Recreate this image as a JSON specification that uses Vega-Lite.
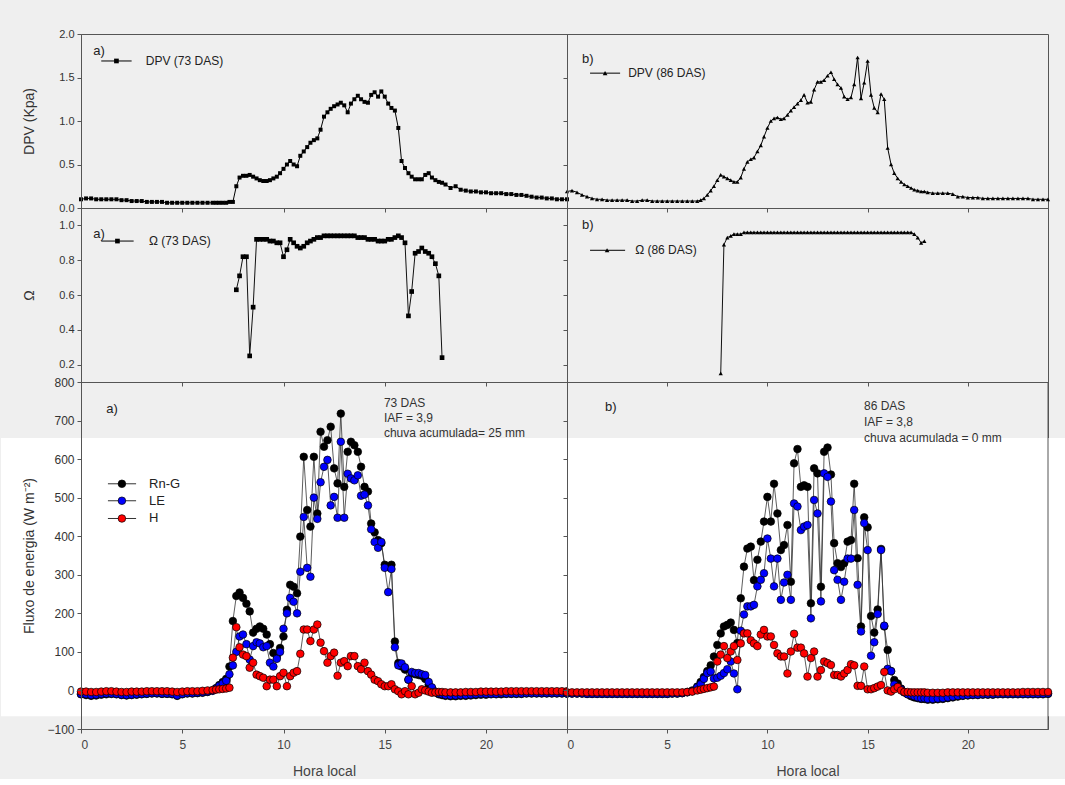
{
"$schema":"https://vega.github.io/schema/vega-lite/v6.json",
"background":"#efefef",
"padding":{"left":0,"right":0,"top":27,"bottom":0},
"config":{"view":{"stroke":"#555","strokeWidth":1},
"axis":{"labelFont":"Liberation Sans","titleFont":"Liberation Sans","labelColor":"#333","titleColor":"#333","domainColor":"#555","tickColor":"#555","grid":false,"zindex":1,"labelFontSize":11,"titleFontSize":14,"titleFontWeight":"normal","tickSize":4,"labelOverlap":false,"tickCount":12},
"text":{"font":"Liberation Sans"}},
"datasets":{
"L":[
{"t":0,"d":0.10,"r":-10,"l":-9,"h":-3},{"t":0.25,"d":0.11,"r":-12,"l":-10,"h":-3},{"t":0.5,"d":0.11,"r":-14,"l":-12,"h":-4},{"t":0.75,"d":0.1,"r":-13,"l":-11,"h":-4},{"t":1,"d":0.1,"r":-11,"l":-9,"h":-3},{"t":1.25,"d":0.1,"r":-10,"l":-8,"h":-2},{"t":1.5,"d":0.1,"r":-9,"l":-8,"h":-2},{"t":1.75,"d":0.1,"r":-10,"l":-9,"h":-3},{"t":2,"d":0.09,"r":-12,"l":-11,"h":-4},{"t":2.25,"d":0.09,"r":-13,"l":-12,"h":-4},{"t":2.5,"d":0.08,"r":-12,"l":-11,"h":-3},{"t":2.75,"d":0.08,"r":-11,"l":-10,"h":-3},{"t":3,"d":0.08,"r":-10,"l":-9,"h":-3},{"t":3.25,"d":0.07,"r":-9,"l":-8,"h":-2},{"t":3.5,"d":0.07,"r":-8,"l":-7,"h":-2},{"t":3.75,"d":0.07,"r":-8,"l":-7,"h":-2},{"t":4,"d":0.07,"r":-9,"l":-8,"h":-2},{"t":4.25,"d":0.06,"r":-9,"l":-8,"h":-2},{"t":4.5,"d":0.06,"r":-10,"l":-9,"h":-3},{"t":4.75,"d":0.06,"r":-14,"l":-13,"h":-4},{"t":5,"d":0.06,"r":-10,"l":-9,"h":-3},{"t":5.25,"d":0.06,"r":-8,"l":-7,"h":-2},{"t":5.5,"d":0.06,"r":-8,"l":-7,"h":-2},{"t":5.75,"d":0.06,"r":-7,"l":-6,"h":-2},{"t":6,"d":0.06,"r":-6,"l":-5,"h":-1},{"t":6.25,"d":0.06,"r":-4,"l":-3,"h":0},{"t":6.5,"d":0.06,"r":0,"l":-1,"h":1},
{"t":6.67,"d":0.06,"r":6,"l":5,"h":2},{"t":6.83,"d":0.06,"r":14,"l":12,"h":3},{"t":7,"d":0.06,"r":22,"l":18,"h":4},{"t":7.17,"d":0.06,"r":30,"l":25,"h":5},{"t":7.33,"d":0.07,"r":62,"l":42,"h":7},{"t":7.5,"d":0.07,"r":180,"l":65,"h":85},
{"t":7.67,"d":0.25,"o":0.63,"r":245,"l":100,"h":164},{"t":7.83,"d":0.35,"o":0.71,"r":254,"l":140,"h":112},{"t":8,"d":0.37,"o":0.82,"r":240,"l":145,"h":93},{"t":8.17,"d":0.37,"o":0.82,"r":225,"l":120,"h":89},{"t":8.33,"d":0.38,"o":0.25,"r":205,"l":80,"h":59},{"t":8.5,"d":0.36,"o":0.53,"r":150,"l":115,"h":72},{"t":8.67,"d":0.34,"o":0.92,"r":160,"l":125,"h":41},{"t":8.83,"d":0.32,"o":0.92,"r":166,"l":122,"h":37},{"t":9,"d":0.31,"o":0.92,"r":160,"l":112,"h":33},{"t":9.17,"d":0.31,"o":0.92,"r":145,"l":115,"h":11},{"t":9.33,"d":0.32,"o":0.91,"r":120,"l":72,"h":28},{"t":9.5,"d":0.34,"o":0.91,"r":97,"l":62,"h":28},{"t":9.67,"d":0.36,"o":0.9,"r":88,"l":82,"h":11},{"t":9.83,"d":0.4,"o":0.9,"r":110,"l":100,"h":37},{"t":10,"d":0.45,"o":0.82,"r":140,"l":160,"h":46},{"t":10.17,"d":0.5,"o":0.86,"r":209,"l":200,"h":11},{"t":10.33,"d":0.54,"o":0.92,"r":274,"l":240,"h":37},{"t":10.5,"d":0.5,"o":0.9,"r":269,"l":230,"h":46},{"t":10.67,"d":0.48,"o":0.88,"r":252,"l":200,"h":50},{"t":10.83,"d":0.6,"o":0.87,"r":399,"l":308,"h":95},{"t":11,"d":0.65,"o":0.88,"r":606,"l":450,"h":158},{"t":11.17,"d":0.7,"o":0.9,"r":468,"l":318,"h":158},{"t":11.33,"d":0.75,"o":0.91,"r":425,"l":295,"h":128},{"t":11.5,"d":0.78,"o":0.92,"r":606,"l":500,"h":158},{"t":11.67,"d":0.8,"o":0.93,"r":459,"l":445,"h":171},{"t":11.83,"d":0.9,"o":0.93,"r":671,"l":540,"h":124},{"t":12,"d":1.05,"o":0.94,"r":632,"l":580,"h":102},{"t":12.17,"d":1.1,"o":0.94,"r":649,"l":598,"h":72},{"t":12.33,"d":1.14,"o":0.94,"r":684,"l":480,"h":89},{"t":12.5,"d":1.17,"o":0.94,"r":576,"l":502,"h":98},{"t":12.67,"d":1.19,"o":0.94,"r":537,"l":448,"h":38},{"t":12.83,"d":1.21,"o":0.94,"r":718,"l":645,"h":72},{"t":13,"d":1.18,"o":0.94,"r":528,"l":448,"h":76},{"t":13.17,"d":1.1,"o":0.94,"r":619,"l":562,"h":63},{"t":13.33,"d":1.2,"o":0.94,"r":645,"l":550,"h":89},{"t":13.5,"d":1.25,"o":0.94,"r":636,"l":545,"h":89},{"t":13.67,"d":1.29,"o":0.93,"r":619,"l":558,"h":63},{"t":13.83,"d":1.25,"o":0.93,"r":580,"l":505,"h":55},{"t":14,"d":1.22,"o":0.93,"r":528,"l":508,"h":72},{"t":14.17,"d":1.21,"o":0.92,"r":516,"l":480,"h":50},{"t":14.33,"d":1.3,"o":0.92,"r":433,"l":418,"h":41},{"t":14.5,"d":1.33,"o":0.92,"r":410,"l":385,"h":28},{"t":14.67,"d":1.28,"o":0.91,"r":390,"l":370,"h":24},{"t":14.83,"d":1.34,"o":0.91,"r":382,"l":385,"h":16},{"t":15,"d":1.28,"o":0.91,"r":326,"l":318,"h":11},{"t":15.17,"d":1.2,"o":0.92,"r":320,"l":255,"h":11},{"t":15.33,"d":1.15,"o":0.92,"r":326,"l":315,"h":16},{"t":15.5,"d":1.12,"o":0.93,"r":127,"l":112,"h":3},{"t":15.67,"d":0.92,"o":0.94,"r":71,"l":65,"h":-2},{"t":15.83,"d":0.54,"o":0.93,"r":62,"l":70,"h":-10},{"t":16,"d":0.46,"o":0.9,"r":54,"l":60,"h":-2},{"t":16.17,"d":0.4,"o":0.48,"r":28,"l":28,"h":-10},{"t":16.33,"d":0.36,"o":0.62,"r":45,"l":48,"h":11},{"t":16.5,"d":0.33,"o":0.84,"r":42,"l":45,"h":-10},{"t":16.67,"d":0.33,"o":0.85,"r":40,"l":45,"h":-6},{"t":16.83,"d":0.33,"o":0.87,"r":38,"l":42,"h":3},{"t":17,"d":0.38,"o":0.85,"r":30,"l":40,"h":0},{"t":17.17,"d":0.4,"o":0.84,"r":15,"l":22,"h":-3},{"t":17.33,"d":0.35,"o":0.82,"r":5,"l":8,"h":-6},{"t":17.5,"d":0.32,"o":0.78,"r":-5,"l":-3,"h":-5},{"t":17.67,"d":0.3,"o":0.71,"r":-10,"l":-8,"h":-4},{"t":17.83,"d":0.29,"o":0.24,"r":-12,"l":-10,"h":-4},
{"t":18,"d":0.27,"r":-14,"l":-12,"h":-5},{"t":18.25,"d":0.23,"r":-15,"l":-13,"h":-5},{"t":18.5,"d":0.25,"r":-15,"l":-13,"h":-5},{"t":18.75,"d":0.21,"r":-14,"l":-12,"h":-5},{"t":19,"d":0.2,"r":-14,"l":-12,"h":-4},{"t":19.25,"d":0.19,"r":-13,"l":-11,"h":-4},{"t":19.5,"d":0.19,"r":-12,"l":-10,"h":-4},{"t":19.75,"d":0.18,"r":-11,"l":-9,"h":-3},{"t":20,"d":0.18,"r":-11,"l":-9,"h":-3},{"t":20.25,"d":0.17,"r":-10,"l":-9,"h":-3},{"t":20.5,"d":0.17,"r":-10,"l":-9,"h":-3},{"t":20.75,"d":0.17,"r":-10,"l":-8,"h":-3},{"t":21,"d":0.16,"r":-9,"l":-8,"h":-2},{"t":21.25,"d":0.16,"r":-9,"l":-8,"h":-2},{"t":21.5,"d":0.15,"r":-9,"l":-8,"h":-2},{"t":21.75,"d":0.15,"r":-9,"l":-8,"h":-2},{"t":22,"d":0.14,"r":-8,"l":-7,"h":-2},{"t":22.25,"d":0.13,"r":-8,"l":-7,"h":-2},{"t":22.5,"d":0.12,"r":-8,"l":-7,"h":-2},{"t":22.75,"d":0.12,"r":-8,"l":-7,"h":-2},{"t":23,"d":0.11,"r":-8,"l":-7,"h":-2},{"t":23.25,"d":0.11,"r":-8,"l":-7,"h":-2},{"t":23.5,"d":0.1,"r":-8,"l":-7,"h":-2},{"t":23.75,"d":0.1,"r":-8,"l":-7,"h":-2},{"t":24,"d":0.1,"r":-8,"l":-7,"h":-2}
],
"R":[
{"t":0,"d":0.19,"r":-8,"l":-8,"h":-5},{"t":0.25,"d":0.2,"r":-8,"l":-8,"h":-5},{"t":0.5,"d":0.18,"r":-8,"l":-8,"h":-5},{"t":0.75,"d":0.15,"r":-8,"l":-8,"h":-5},{"t":1,"d":0.13,"r":-9,"l":-9,"h":-5},{"t":1.25,"d":0.11,"r":-9,"l":-9,"h":-5},{"t":1.5,"d":0.1,"r":-9,"l":-9,"h":-5},{"t":1.75,"d":0.1,"r":-9,"l":-9,"h":-5},{"t":2,"d":0.09,"r":-9,"l":-9,"h":-5},{"t":2.25,"d":0.09,"r":-9,"l":-9,"h":-5},{"t":2.5,"d":0.09,"r":-9,"l":-9,"h":-5},{"t":2.75,"d":0.09,"r":-9,"l":-9,"h":-5},{"t":3,"d":0.09,"r":-9,"l":-9,"h":-5},{"t":3.25,"d":0.08,"r":-9,"l":-9,"h":-5},{"t":3.5,"d":0.08,"r":-9,"l":-9,"h":-5},{"t":3.75,"d":0.09,"r":-9,"l":-9,"h":-5},{"t":4,"d":0.09,"r":-9,"l":-9,"h":-5},{"t":4.25,"d":0.08,"r":-9,"l":-9,"h":-5},{"t":4.5,"d":0.08,"r":-9,"l":-9,"h":-5},{"t":4.75,"d":0.08,"r":-9,"l":-9,"h":-5},{"t":5,"d":0.08,"r":-9,"l":-9,"h":-5},{"t":5.25,"d":0.08,"r":-8,"l":-8,"h":-5},{"t":5.5,"d":0.08,"r":-8,"l":-8,"h":-5},{"t":5.75,"d":0.08,"r":-7,"l":-7,"h":-5},{"t":6,"d":0.08,"r":-4,"l":-5,"h":-4},{"t":6.25,"d":0.08,"r":0,"l":-2,"h":-3},
{"t":6.5,"d":0.08,"r":10,"l":8,"h":0},{"t":6.67,"d":0.09,"r":22,"l":16,"h":2},{"t":6.83,"d":0.11,"r":35,"l":30,"h":4},{"t":7,"d":0.15,"r":50,"l":45,"h":6},{"t":7.17,"d":0.2,"r":65,"l":49,"h":8},{"t":7.33,"d":0.25,"r":88,"l":31,"h":10},{"t":7.5,"d":0.32,"r":118,"l":33,"h":75},
{"t":7.67,"d":0.38,"o":0.15,"r":148,"l":38,"h":93},{"t":7.83,"d":0.36,"o":0.89,"r":166,"l":45,"h":115},{"t":8,"d":0.34,"o":0.93,"r":170,"l":55,"h":84},{"t":8.17,"d":0.32,"o":0.94,"r":176,"l":75,"h":101},{"t":8.33,"d":0.3,"o":0.95,"r":157,"l":44,"h":115},{"t":8.5,"d":0.3,"o":0.95,"r":123,"l":3,"h":79},{"t":8.67,"d":0.35,"o":0.95,"r":239,"l":155,"h":122},{"t":8.83,"d":0.45,"o":0.96,"r":321,"l":197,"h":148},{"t":9,"d":0.53,"o":0.96,"r":368,"l":218,"h":148},{"t":9.17,"d":0.56,"o":0.96,"r":373,"l":218,"h":130},{"t":9.33,"d":0.58,"o":0.96,"r":286,"l":222,"h":122},{"t":9.5,"d":0.65,"o":0.96,"r":339,"l":270,"h":115},{"t":9.67,"d":0.72,"o":0.96,"r":386,"l":287,"h":145},{"t":9.83,"d":0.82,"o":0.96,"r":438,"l":304,"h":157},{"t":10,"d":0.92,"o":0.96,"r":502,"l":394,"h":140},{"t":10.17,"d":1.0,"o":0.96,"r":438,"l":342,"h":140},{"t":10.33,"d":1.03,"o":0.96,"r":536,"l":270,"h":118},{"t":10.5,"d":1.04,"o":0.96,"r":459,"l":342,"h":96},{"t":10.67,"d":1.02,"o":0.96,"r":364,"l":235,"h":88},{"t":10.83,"d":1.03,"o":0.96,"r":377,"l":280,"h":88},{"t":11,"d":1.07,"o":0.96,"r":429,"l":300,"h":44},{"t":11.17,"d":1.12,"o":0.96,"r":282,"l":235,"h":101},{"t":11.33,"d":1.16,"o":0.96,"r":589,"l":485,"h":147},{"t":11.5,"d":1.2,"o":0.96,"r":626,"l":477,"h":111},{"t":11.67,"d":1.24,"o":0.96,"r":528,"l":416,"h":111},{"t":11.83,"d":1.3,"o":0.96,"r":532,"l":425,"h":96},{"t":12,"d":1.21,"o":0.96,"r":528,"l":429,"h":36},{"t":12.17,"d":1.22,"o":0.96,"r":226,"l":187,"h":84},{"t":12.33,"d":1.36,"o":0.96,"r":576,"l":494,"h":101},{"t":12.5,"d":1.45,"o":0.96,"r":563,"l":459,"h":36},{"t":12.67,"d":1.45,"o":0.96,"r":269,"l":231,"h":53},{"t":12.83,"d":1.47,"o":0.96,"r":619,"l":563,"h":75},{"t":13,"d":1.52,"o":0.96,"r":630,"l":554,"h":71},{"t":13.17,"d":1.56,"o":0.96,"r":560,"l":490,"h":66},{"t":13.33,"d":1.48,"o":0.96,"r":382,"l":312,"h":40},{"t":13.5,"d":1.42,"o":0.96,"r":330,"l":287,"h":40},{"t":13.67,"d":1.38,"o":0.96,"r":320,"l":235,"h":36},{"t":13.83,"d":1.28,"o":0.96,"r":330,"l":282,"h":44},{"t":14,"d":1.25,"o":0.96,"r":386,"l":342,"h":53},{"t":14.17,"d":1.27,"o":0.96,"r":390,"l":342,"h":68},{"t":14.33,"d":1.42,"o":0.96,"r":536,"l":468,"h":65},{"t":14.5,"d":1.73,"o":0.96,"r":343,"l":274,"h":12},{"t":14.67,"d":1.26,"o":0.96,"r":166,"l":153,"h":12},{"t":14.83,"d":1.44,"o":0.96,"r":449,"l":434,"h":62},{"t":15,"d":1.69,"o":0.96,"r":423,"l":364,"h":3},{"t":15.17,"d":1.3,"o":0.96,"r":193,"l":90,"h":3},{"t":15.33,"d":1.15,"o":0.96,"r":150,"l":125,"h":6},{"t":15.5,"d":1.1,"o":0.96,"r":210,"l":198,"h":10},{"t":15.67,"d":1.31,"o":0.96,"r":367,"l":364,"h":14},{"t":15.83,"d":1.25,"o":0.96,"r":166,"l":168,"h":48},{"t":16,"d":0.69,"o":0.96,"r":105,"l":56,"h":0},{"t":16.17,"d":0.5,"o":0.96,"r":50,"l":50,"h":-3},{"t":16.33,"d":0.4,"o":0.96,"r":27,"l":15,"h":3},{"t":16.5,"d":0.34,"o":0.96,"r":18,"l":8,"h":9},{"t":16.67,"d":0.3,"o":0.96,"r":5,"l":3,"h":0},{"t":16.83,"d":0.27,"o":0.96,"r":-5,"l":-5,"h":-4},{"t":17,"d":0.25,"o":0.96,"r":-10,"l":-10,"h":-4},{"t":17.17,"d":0.23,"o":0.96,"r":-15,"l":-12,"h":-5},{"t":17.33,"d":0.21,"o":0.95,"r":-18,"l":-15,"h":-5},{"t":17.5,"d":0.2,"o":0.93,"r":-20,"l":-18,"h":-5},{"t":17.67,"d":0.19,"o":0.9,"r":-22,"l":-20,"h":-5},{"t":17.83,"d":0.19,"o":0.91,"r":-22,"l":-20,"h":-5},
{"t":18,"d":0.18,"r":-24,"l":-22,"h":-6},{"t":18.25,"d":0.17,"r":-24,"l":-22,"h":-6},{"t":18.5,"d":0.17,"r":-23,"l":-21,"h":-6},{"t":18.75,"d":0.17,"r":-22,"l":-20,"h":-6},{"t":19,"d":0.17,"r":-20,"l":-18,"h":-5},{"t":19.25,"d":0.16,"r":-18,"l":-16,"h":-5},{"t":19.5,"d":0.13,"r":-16,"l":-14,"h":-5},{"t":19.75,"d":0.13,"r":-14,"l":-13,"h":-5},{"t":20,"d":0.12,"r":-13,"l":-12,"h":-5},{"t":20.25,"d":0.12,"r":-12,"l":-11,"h":-5},{"t":20.5,"d":0.12,"r":-12,"l":-11,"h":-5},{"t":20.75,"d":0.11,"r":-11,"l":-10,"h":-5},{"t":21,"d":0.11,"r":-11,"l":-10,"h":-5},{"t":21.25,"d":0.11,"r":-11,"l":-10,"h":-5},{"t":21.5,"d":0.11,"r":-10,"l":-9,"h":-5},{"t":21.75,"d":0.11,"r":-10,"l":-9,"h":-5},{"t":22,"d":0.11,"r":-10,"l":-9,"h":-5},{"t":22.25,"d":0.11,"r":-10,"l":-9,"h":-5},{"t":22.5,"d":0.11,"r":-10,"l":-9,"h":-5},{"t":22.75,"d":0.11,"r":-10,"l":-9,"h":-4},{"t":23,"d":0.11,"r":-10,"l":-9,"h":-4},{"t":23.25,"d":0.1,"r":-10,"l":-9,"h":-4},{"t":23.5,"d":0.1,"r":-10,"l":-9,"h":-4},{"t":23.75,"d":0.1,"r":-10,"l":-9,"h":-4},{"t":24,"d":0.1,"r":-9,"l":-8,"h":-4}
]},
"columns":2,
"spacing":0,
"bounds":"flush",
"align":"each",
"concat":[
{"width":486,"height":174,"data":{"name":"L"},
"encoding":{"x":{"field":"t","type":"quantitative","scale":{"domain":[0,24],"nice":false,"zero":false},"axis":{"values":[0,5,10,15,20],"labels":false,"title":null,"zindex":1}}},
"layer":[
{"mark":{"type":"line","color":"#000","strokeWidth":1},"encoding":{"y":{"field":"d","type":"quantitative","scale":{"domain":[0,2],"nice":false},"axis":{"values":[0,0.5,1,1.5,2],"format":".1f","title":"DPV (Kpa)","minExtent":40,"maxExtent":40,"titlePadding":5,"labelPadding":3,"zindex":1}}}},
{"mark":{"type":"point","shape":"square","filled":true,"color":"#000","size":16,"opacity":1},"encoding":{"y":{"field":"d","type":"quantitative"}}},
{"transform":[{"filter":"datum.t == 0"}],"mark":{"type":"text","align":"left","baseline":"middle","fontSize":13,"color":"#222"},"encoding":{"x":{"datum":0.6,"type":"quantitative"},"y":{"datum":1.8,"type":"quantitative"},"text":{"value":"a)"}}},
{"transform":[{"filter":"datum.t == 0"}],"mark":{"type":"rule","color":"#000","strokeWidth":1},"encoding":{"x":{"datum":1.0,"type":"quantitative"},"x2":{"datum":2.5},"y":{"datum":1.69,"type":"quantitative"}}},
{"transform":[{"filter":"datum.t == 0"}],"mark":{"type":"point","shape":"square","filled":true,"color":"#000","size":22,"opacity":1},"encoding":{"x":{"datum":1.75,"type":"quantitative"},"y":{"datum":1.69,"type":"quantitative"}}},
{"transform":[{"filter":"datum.t == 0"}],"mark":{"type":"text","align":"left","baseline":"middle","fontSize":12,"color":"#222"},"encoding":{"x":{"datum":3.2,"type":"quantitative"},"y":{"datum":1.69,"type":"quantitative"},"text":{"value":"DPV (73 DAS)"}}}
]},
{"width":481,"height":174,"data":{"name":"R"},
"encoding":{"x":{"field":"t","type":"quantitative","scale":{"domain":[0,24],"nice":false,"zero":false},"axis":{"values":[0,5,10,15,20],"labels":false,"title":null,"zindex":1}}},
"layer":[
{"mark":{"type":"line","color":"#000","strokeWidth":1},"encoding":{"y":{"field":"d","type":"quantitative","scale":{"domain":[0,2],"nice":false},"axis":{"values":[0,0.5,1,1.5,2],"labels":false,"title":null,"zindex":1}}}},
{"mark":{"type":"point","shape":"triangle-up","filled":true,"color":"#000","size":18,"opacity":1},"encoding":{"y":{"field":"d","type":"quantitative"}}},
{"transform":[{"filter":"datum.t == 0"}],"mark":{"type":"text","align":"left","baseline":"middle","fontSize":13,"color":"#222"},"encoding":{"x":{"datum":0.75,"type":"quantitative"},"y":{"datum":1.71,"type":"quantitative"},"text":{"value":"b)"}}},
{"transform":[{"filter":"datum.t == 0"}],"mark":{"type":"rule","color":"#000","strokeWidth":1},"encoding":{"x":{"datum":1.15,"type":"quantitative"},"x2":{"datum":2.65},"y":{"datum":1.55,"type":"quantitative"}}},
{"transform":[{"filter":"datum.t == 0"}],"mark":{"type":"point","shape":"triangle-up","filled":true,"color":"#000","size":22,"opacity":1},"encoding":{"x":{"datum":1.9,"type":"quantitative"},"y":{"datum":1.55,"type":"quantitative"}}},
{"transform":[{"filter":"datum.t == 0"}],"mark":{"type":"text","align":"left","baseline":"middle","fontSize":12,"color":"#222"},"encoding":{"x":{"datum":3.05,"type":"quantitative"},"y":{"datum":1.55,"type":"quantitative"},"text":{"value":"DPV (86 DAS)"}}}
]},
{"width":486,"height":174,"data":{"name":"L"},
"encoding":{"x":{"field":"t","type":"quantitative","scale":{"domain":[0,24],"nice":false,"zero":false},"axis":{"values":[0,5,10,15,20],"labels":false,"title":null,"zindex":1}}},
"layer":[
{"transform":[{"filter":"isValid(datum.o)"}],"mark":{"type":"line","color":"#111","strokeWidth":1},"encoding":{"y":{"field":"o","type":"quantitative","scale":{"domain":[0.1,1.1],"nice":false,"zero":false},"axis":{"values":[0.2,0.4,0.6,0.8,1.0],"format":".1f","title":"Ω","minExtent":40,"maxExtent":40,"titlePadding":5,"labelPadding":3,"zindex":1}}}},
{"transform":[{"filter":"isValid(datum.o)"}],"mark":{"type":"point","shape":"square","filled":true,"color":"#000","size":22,"opacity":1},"encoding":{"y":{"field":"o","type":"quantitative"}}},
{"transform":[{"filter":"datum.t == 0"}],"mark":{"type":"text","align":"left","baseline":"middle","fontSize":13,"color":"#222"},"encoding":{"x":{"datum":0.6,"type":"quantitative"},"y":{"datum":0.95,"type":"quantitative"},"text":{"value":"a)"}}},
{"transform":[{"filter":"datum.t == 0"}],"mark":{"type":"rule","color":"#000","strokeWidth":1},"encoding":{"x":{"datum":1.0,"type":"quantitative"},"x2":{"datum":2.6},"y":{"datum":0.91,"type":"quantitative"}}},
{"transform":[{"filter":"datum.t == 0"}],"mark":{"type":"point","shape":"square","filled":true,"color":"#000","size":22,"opacity":1},"encoding":{"x":{"datum":1.8,"type":"quantitative"},"y":{"datum":0.91,"type":"quantitative"}}},
{"transform":[{"filter":"datum.t == 0"}],"mark":{"type":"text","align":"left","baseline":"middle","fontSize":12,"color":"#222"},"encoding":{"x":{"datum":3.36,"type":"quantitative"},"y":{"datum":0.91,"type":"quantitative"},"text":{"value":"Ω (73 DAS)"}}}
]},
{"width":481,"height":174,"data":{"name":"R"},
"encoding":{"x":{"field":"t","type":"quantitative","scale":{"domain":[0,24],"nice":false,"zero":false},"axis":{"values":[0,5,10,15,20],"labels":false,"title":null,"zindex":1}}},
"layer":[
{"transform":[{"filter":"isValid(datum.o)"}],"mark":{"type":"line","color":"#111","strokeWidth":1},"encoding":{"y":{"field":"o","type":"quantitative","scale":{"domain":[0.1,1.1],"nice":false,"zero":false},"axis":{"values":[0.2,0.4,0.6,0.8,1.0],"labels":false,"title":null,"zindex":1}}}},
{"transform":[{"filter":"isValid(datum.o)"}],"mark":{"type":"point","shape":"triangle-up","filled":true,"color":"#000","size":18,"opacity":1},"encoding":{"y":{"field":"o","type":"quantitative"}}},
{"transform":[{"filter":"datum.t == 0"}],"mark":{"type":"text","align":"left","baseline":"middle","fontSize":13,"color":"#222"},"encoding":{"x":{"datum":0.75,"type":"quantitative"},"y":{"datum":1.0,"type":"quantitative"},"text":{"value":"b)"}}},
{"transform":[{"filter":"datum.t == 0"}],"mark":{"type":"rule","color":"#000","strokeWidth":1},"encoding":{"x":{"datum":1.15,"type":"quantitative"},"x2":{"datum":2.9},"y":{"datum":0.857,"type":"quantitative"}}},
{"transform":[{"filter":"datum.t == 0"}],"mark":{"type":"point","shape":"triangle-up","filled":true,"color":"#000","size":22,"opacity":1},"encoding":{"x":{"datum":2.0,"type":"quantitative"},"y":{"datum":0.857,"type":"quantitative"}}},
{"transform":[{"filter":"datum.t == 0"}],"mark":{"type":"text","align":"left","baseline":"middle","fontSize":12,"color":"#222"},"encoding":{"x":{"datum":3.4,"type":"quantitative"},"y":{"datum":0.857,"type":"quantitative"},"text":{"value":"Ω (86 DAS)"}}}
]},
{"width":486,"height":347,"data":{"name":"L"},
"encoding":{"x":{"field":"t","type":"quantitative","scale":{"domain":[0,24],"nice":false,"zero":false},"axis":{"values":[0,5,10,15,20],"format":"d","title":"Hora local","labelFontSize":12,"labelColor":"#444","labelPadding":6,"titlePadding":14,"titleColor":"#444","zindex":1}}},
"layer":[
{"transform":[{"filter":"datum.t == 0"}],"mark":{"type":"rect","color":"#ffffff","clip":false},"encoding":{"x":{"datum":-3.95,"type":"quantitative"},"x2":{"datum":24},"y":{"datum":-67,"type":"quantitative"},"y2":{"datum":655}}},
{"mark":{"type":"line","color":"#333","strokeWidth":0.8},"encoding":{"y":{"field":"r","type":"quantitative","scale":{"domain":[-100,800],"nice":false},"axis":{"values":[-100,0,100,200,300,400,500,600,700,800],"tickCount":12,"title":"Fluxo de energia (W m⁻²)","labelFontSize":12,"minExtent":40,"maxExtent":40,"titlePadding":5,"labelPadding":3,"labelOverlap":false,"zindex":2}}}},
{"mark":{"type":"line","color":"#333","strokeWidth":0.8},"encoding":{"y":{"field":"l","type":"quantitative"}}},
{"mark":{"type":"line","color":"#333","strokeWidth":0.8},"encoding":{"y":{"field":"h","type":"quantitative"}}},
{"mark":{"type":"circle","fill":"#000000","stroke":"#000","strokeWidth":0.7,"size":58,"opacity":1},"encoding":{"y":{"field":"r","type":"quantitative"}}},
{"mark":{"type":"circle","fill":"#0000ff","stroke":"#000","strokeWidth":0.7,"size":58,"opacity":1},"encoding":{"y":{"field":"l","type":"quantitative"}}},
{"mark":{"type":"circle","fill":"#ff0000","stroke":"#000","strokeWidth":0.7,"size":58,"opacity":1},"encoding":{"y":{"field":"h","type":"quantitative"}}},
{"transform":[{"filter":"datum.t == 0"}],"mark":{"type":"text","align":"left","baseline":"middle","fontSize":13,"color":"#222"},"encoding":{"x":{"datum":1.25,"type":"quantitative"},"y":{"datum":730,"type":"quantitative"},"text":{"value":"a)"}}},
{"transform":[{"filter":"datum.t == 0"}],"mark":{"type":"text","align":"left","baseline":"top","fontSize":12,"lineHeight":15,"color":"#333"},"encoding":{"x":{"datum":14.96,"type":"quantitative"},"y":{"datum":759,"type":"quantitative"},"text":{"value":["73 DAS","IAF = 3,9","chuva acumulada= 25 mm"]}}},
{"transform":[{"filter":"datum.t == 0"}],"mark":{"type":"rule","color":"#333","strokeWidth":1},"encoding":{"x":{"datum":1.33,"type":"quantitative"},"x2":{"datum":2.72},"y":{"datum":536,"type":"quantitative"}}},
{"transform":[{"filter":"datum.t == 0"}],"mark":{"type":"rule","color":"#333","strokeWidth":1},"encoding":{"x":{"datum":1.33,"type":"quantitative"},"x2":{"datum":2.72},"y":{"datum":492,"type":"quantitative"}}},
{"transform":[{"filter":"datum.t == 0"}],"mark":{"type":"rule","color":"#333","strokeWidth":1},"encoding":{"x":{"datum":1.33,"type":"quantitative"},"x2":{"datum":2.72},"y":{"datum":446,"type":"quantitative"}}},
{"transform":[{"filter":"datum.t == 0"}],"mark":{"type":"circle","fill":"#000000","stroke":"#000","strokeWidth":0.7,"size":58,"opacity":1},"encoding":{"x":{"datum":2.02,"type":"quantitative"},"y":{"datum":536,"type":"quantitative"}}},
{"transform":[{"filter":"datum.t == 0"}],"mark":{"type":"circle","fill":"#0000ff","stroke":"#000","strokeWidth":0.7,"size":58,"opacity":1},"encoding":{"x":{"datum":2.02,"type":"quantitative"},"y":{"datum":492,"type":"quantitative"}}},
{"transform":[{"filter":"datum.t == 0"}],"mark":{"type":"circle","fill":"#ff0000","stroke":"#000","strokeWidth":0.7,"size":58,"opacity":1},"encoding":{"x":{"datum":2.02,"type":"quantitative"},"y":{"datum":446,"type":"quantitative"}}},
{"transform":[{"filter":"datum.t == 0"}],"mark":{"type":"text","align":"left","baseline":"middle","fontSize":13,"color":"#222"},"encoding":{"x":{"datum":3.36,"type":"quantitative"},"y":{"datum":536,"type":"quantitative"},"text":{"value":"Rn-G"}}},
{"transform":[{"filter":"datum.t == 0"}],"mark":{"type":"text","align":"left","baseline":"middle","fontSize":13,"color":"#222"},"encoding":{"x":{"datum":3.36,"type":"quantitative"},"y":{"datum":492,"type":"quantitative"},"text":{"value":"LE"}}},
{"transform":[{"filter":"datum.t == 0"}],"mark":{"type":"text","align":"left","baseline":"middle","fontSize":13,"color":"#222"},"encoding":{"x":{"datum":3.36,"type":"quantitative"},"y":{"datum":446,"type":"quantitative"},"text":{"value":"H"}}}
]},
{"width":481,"height":347,"data":{"name":"R"},
"encoding":{"x":{"field":"t","type":"quantitative","scale":{"domain":[0,24],"nice":false,"zero":false},"axis":{"values":[0,5,10,15,20],"format":"d","title":"Hora local","labelFontSize":12,"labelColor":"#444","labelPadding":6,"titlePadding":14,"titleColor":"#444","zindex":1}}},
"layer":[
{"transform":[{"filter":"datum.t == 0"}],"mark":{"type":"rect","color":"#ffffff","clip":false},"encoding":{"x":{"datum":0,"type":"quantitative"},"x2":{"datum":24.85},"y":{"datum":-67,"type":"quantitative"},"y2":{"datum":655}}},
{"transform":[{"filter":"datum.t == 0"}],"mark":{"type":"rule","color":"#555","strokeWidth":1},"encoding":{"x":{"datum":24,"type":"quantitative"},"y":{"datum":-100,"type":"quantitative"},"y2":{"datum":800}}},
{"mark":{"type":"line","color":"#333","strokeWidth":0.8},"encoding":{"y":{"field":"r","type":"quantitative","scale":{"domain":[-100,800],"nice":false},"axis":{"values":[-100,0,100,200,300,400,500,600,700,800],"tickCount":12,"labels":false,"title":null,"zindex":2}}}},
{"mark":{"type":"line","color":"#333","strokeWidth":0.8},"encoding":{"y":{"field":"l","type":"quantitative"}}},
{"mark":{"type":"line","color":"#333","strokeWidth":0.8},"encoding":{"y":{"field":"h","type":"quantitative"}}},
{"mark":{"type":"circle","fill":"#000000","stroke":"#000","strokeWidth":0.7,"size":58,"opacity":1},"encoding":{"y":{"field":"r","type":"quantitative"}}},
{"mark":{"type":"circle","fill":"#0000ff","stroke":"#000","strokeWidth":0.7,"size":58,"opacity":1},"encoding":{"y":{"field":"l","type":"quantitative"}}},
{"mark":{"type":"circle","fill":"#ff0000","stroke":"#000","strokeWidth":0.7,"size":58,"opacity":1},"encoding":{"y":{"field":"h","type":"quantitative"}}},
{"transform":[{"filter":"datum.t == 0"}],"mark":{"type":"text","align":"left","baseline":"middle","fontSize":13,"color":"#222"},"encoding":{"x":{"datum":1.9,"type":"quantitative"},"y":{"datum":736,"type":"quantitative"},"text":{"value":"b)"}}},
{"transform":[{"filter":"datum.t == 0"}],"mark":{"type":"text","align":"left","baseline":"top","fontSize":12,"lineHeight":16,"color":"#333"},"encoding":{"x":{"datum":14.82,"type":"quantitative"},"y":{"datum":751,"type":"quantitative"},"text":{"value":["86 DAS","IAF = 3,8","chuva acumulada = 0 mm"]}}}
]}
]
}
